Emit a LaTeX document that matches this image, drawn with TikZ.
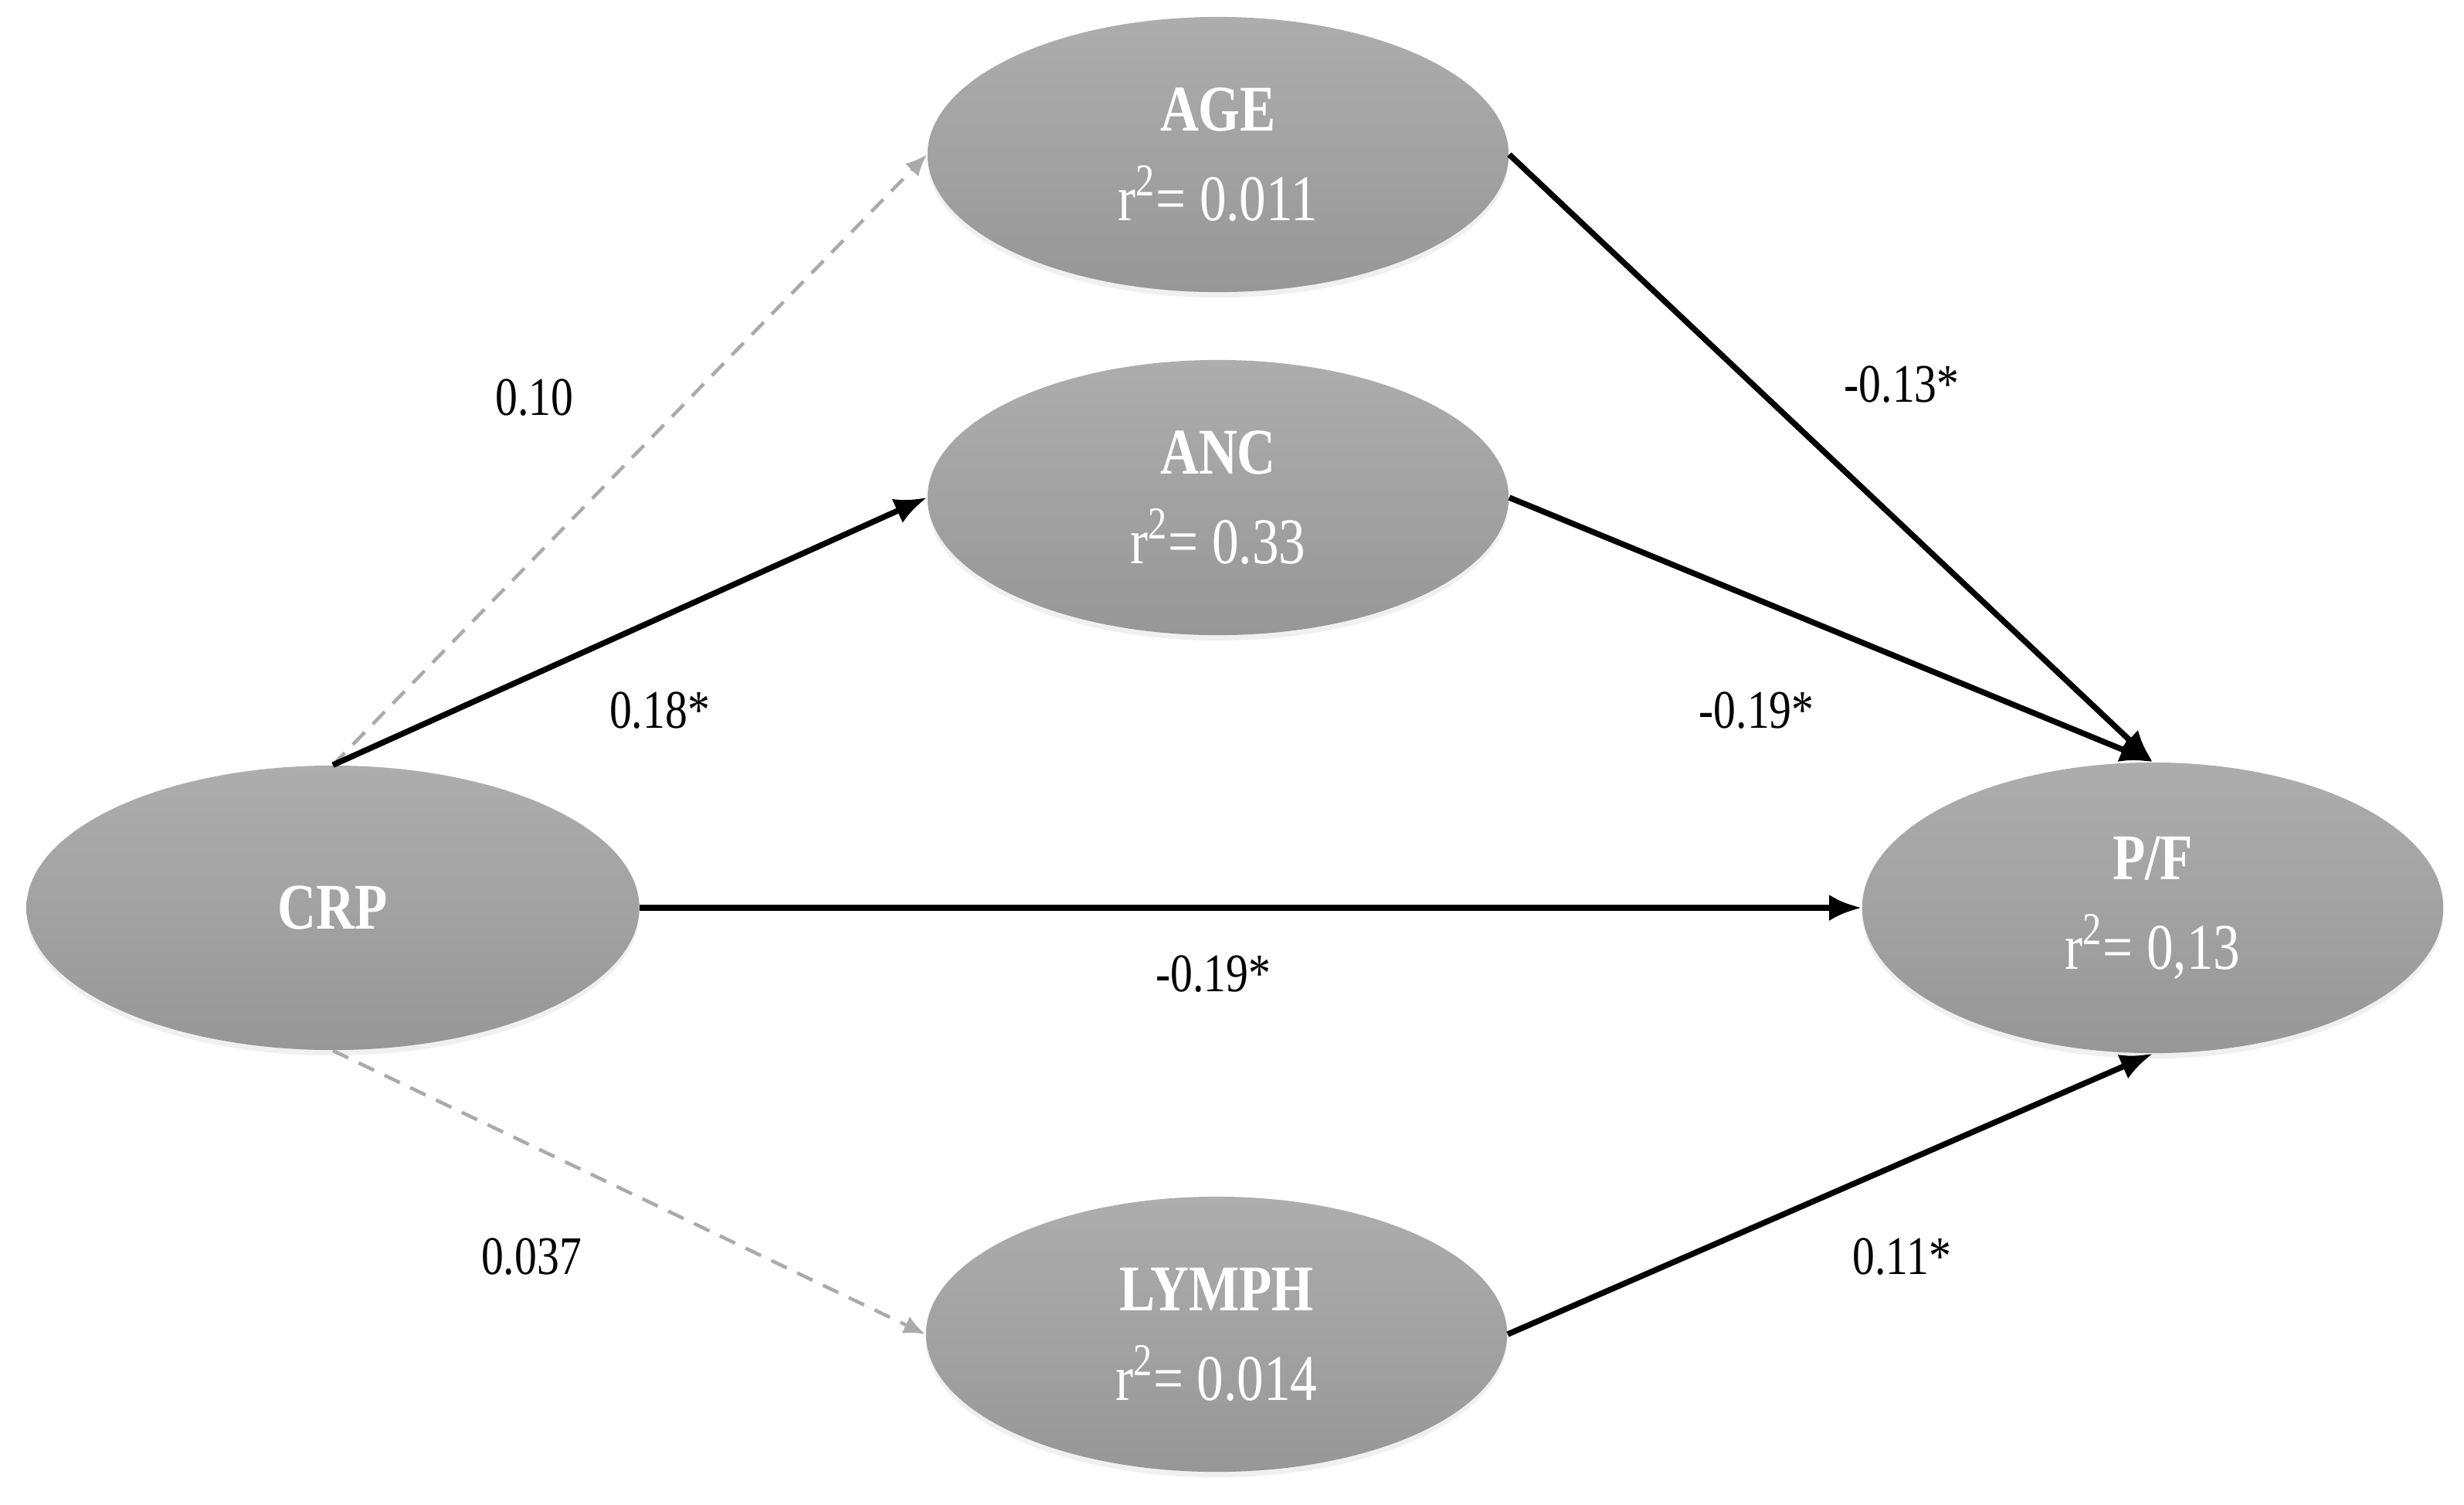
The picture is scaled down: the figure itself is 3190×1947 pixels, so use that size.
\documentclass[tikz,border=0pt]{standalone}
\usepackage{fontspec}
\setmainfont{Liberation Serif}[FakeStretch=0.82]
\usetikzlibrary{arrows.meta,shapes.geometric,shadows}
\definecolor{ellTop}{HTML}{ADADAD}
\definecolor{ellBot}{HTML}{979797}
\definecolor{dashgray}{HTML}{AAAAAA}
\begin{document}
\begin{tikzpicture}[x=0.01cm,y=-0.01cm,
  var/.style={ellipse, minimum width=7.52cm, minimum height=3.56cm, inner sep=0pt,
    top color=ellTop, bottom color=ellBot, draw=none, text=white, align=center,
    font=\fontsize{24}{33}\selectfont,
    drop shadow={opacity=0.12, shadow xshift=0pt, shadow yshift=-2pt}},
  lbl/.style={font=\fontsize{20}{24}\selectfont, text=black, inner sep=1pt},
  sig/.style={line width=0.075cm, black, -{Latex[length=0.42cm,width=0.34cm]}},
  nsig/.style={line width=0.045cm, dashgray, dash pattern=on 0.22cm off 0.15cm,
    -{Latex[length=0.28cm,width=0.24cm]}}
]
\useasboundingbox (0,0) rectangle (3190,1947);

\node[var] (age) at (1577,200) {\textbf{AGE}\\r\textsuperscript{2}= 0.011};
\node[var] (anc) at (1577,644) {\textbf{ANC}\\r\textsuperscript{2}= 0.33};
\node[var] (lymph) at (1575,1727) {\textbf{LYMPH}\\r\textsuperscript{2}= 0.014};
\node[var, minimum width=7.93cm, minimum height=3.68cm] (crp) at (431,1175) {\textbf{CRP}};
\node[var, minimum height=3.76cm] (pf) at (2787,1175) {\textbf{P/F}\\r\textsuperscript{2}= 0,13};

\draw[nsig] (crp.north) -- (age.west);
\draw[sig] (crp.north) -- (anc.west);
\draw[nsig] (crp.south) -- (lymph.west);
\draw[sig] (crp.east) -- (pf.west);
\draw[sig] (age.east) -- (pf.north);
\draw[sig] (anc.east) -- (pf.north);
\draw[sig] (lymph.east) -- (pf.south);

\node[lbl] (l1) at (692,515) {0.10};
\node[lbl] (l2) at (854,920) {0.18*};
\node[lbl] (l3) at (1571,1261) {-0.19*};
\node[lbl] (l4) at (688,1627) {0.037};
\node[lbl] (l5) at (2462,498) {-0.13*};
\node[lbl] (l6) at (2274,920) {-0.19*};
\node[lbl] (l7) at (2462,1627) {0.11*};
\end{tikzpicture}
\end{document}
